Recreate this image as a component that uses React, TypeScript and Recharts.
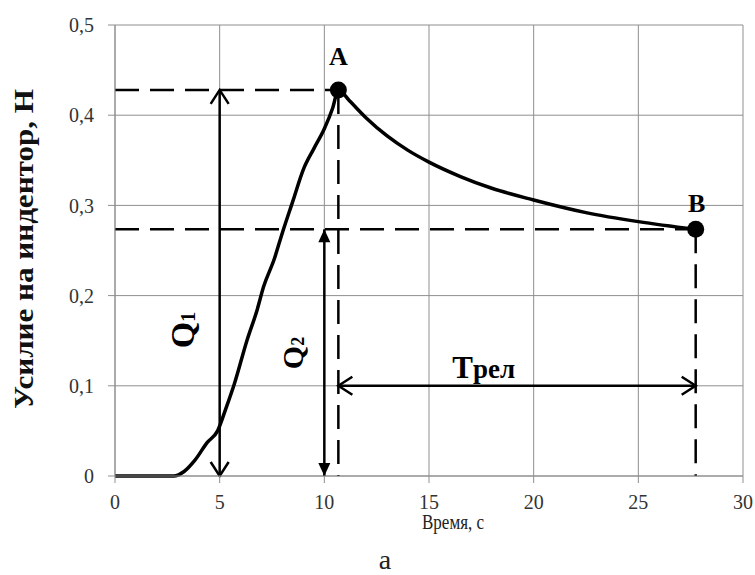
import React from "react";
import {
  ComposedChart,
  Line,
  XAxis,
  YAxis,
  CartesianGrid,
  ReferenceLine,
  ReferenceDot,
  Label,
} from "recharts";

// load curve: time (s) vs force on the indenter (N)
const time = [
  0, 2.8, 3.3, 3.8, 4.4, 4.9, 5.3, 5.7, 6.3, 6.8, 7.1, 7.6, 8.0, 8.5, 9.0,
  9.5, 10.0, 10.4, 10.67, 11.2, 12.0, 13.0, 14.0, 15, 16.5, 18, 20, 22.5, 25,
  27.74,
];
const force = [
  0, 0, 0.005, 0.017, 0.037, 0.05, 0.075, 0.102, 0.15, 0.185, 0.21, 0.24, 0.27,
  0.305, 0.34, 0.363, 0.385, 0.408, 0.428, 0.416, 0.397, 0.377, 0.361, 0.348,
  0.332, 0.319, 0.306, 0.292, 0.282, 0.2735,
];

const pointA = { t: 10.67, f: 0.428 };
const pointB = { t: 27.74, f: 0.2735 };
const q1Time = 5;
const q2Time = 10;
const trelLevel = 0.1;

const xTicks = [0, 5, 10, 15, 20, 25, 30];
const yTicks = [0, 0.1, 0.2, 0.3, 0.4, 0.5];

const data = time.map((t, i) => ({ t, f: force[i] }));

const FONT = "'Liberation Serif', 'Times New Roman', serif";
const GRID = "#8f8f8f";
const serif: React.CSSProperties = { fontFamily: FONT };

const fmtY = (v: number) => (v === 0 ? "0" : v.toFixed(1).replace(".", ","));

type Head = "open" | "filled";

const head = (x: number, y: number, ang: number, kind: Head) => {
  const len = kind === "open" ? 14 : 13;
  const half = kind === "open" ? 9 : 6;
  const bx = x - len * Math.cos(ang);
  const by = y - len * Math.sin(ang);
  const px = -Math.sin(ang) * half;
  const py = Math.cos(ang) * half;
  if (kind === "open") {
    return (
      <polyline
        points={`${bx + px},${by + py} ${x},${y} ${bx - px},${by - py}`}
        fill="none"
        stroke="#000"
        strokeWidth={2.5}
      />
    );
  }
  return (
    <polygon
      points={`${bx + px},${by + py} ${x},${y} ${bx - px},${by - py}`}
      fill="#000"
    />
  );
};

const arrow =
  (kind: Head, label?: (x: number, y: number) => React.ReactNode) =>
  (p: any) => {
    const { x1, y1, x2, y2 } = p;
    const ang = Math.atan2(y2 - y1, x2 - x1);
    return (
      <g>
        <line x1={x1} y1={y1} x2={x2} y2={y2} stroke="#000" strokeWidth={2.5} />
        {head(x2, y2, ang, kind)}
        {head(x1, y1, ang + Math.PI, kind)}
        {label && label(x1, y1)}
      </g>
    );
  };

const qLabel = (cx: number, cy: number, sub: string, size: number) => (
  <text
    x={cx}
    y={cy}
    transform={`rotate(-90 ${cx} ${cy})`}
    textAnchor="middle"
    style={serif}
    fontWeight="bold"
    fontSize={size}
    fill="#000"
  >
    Q
    <tspan fontSize={size * 0.6} dy={size * 0.03}>
      {sub}
    </tspan>
  </text>
);

const dotWithLetter = (letter: string, dx: number, dy: number) => (p: any) => (
  <g>
    <circle cx={p.cx} cy={p.cy} r={8.5} fill="#000" />
    <text
      x={p.cx + dx}
      y={p.cy + dy}
      textAnchor="middle"
      style={serif}
      fontWeight="bold"
      fontSize={26}
      fill="#000"
    >
      {letter}
    </text>
  </g>
);

const dash = "24 11";

export default function App() {
  return (
    <div style={{ position: "absolute", left: 0, top: 0, background: "#fff", ...serif }}>
      <ComposedChart
        width={755}
        height={575}
        data={data}
        margin={{ top: 25, right: 12, bottom: 0, left: 0 }}
        style={serif}
      >
        <CartesianGrid stroke={GRID} strokeWidth={1} />
        <XAxis
          dataKey="t"
          type="number"
          domain={[0, 30]}
          ticks={xTicks}
          height={99}
          tickSize={7}
          tickMargin={12}
          stroke={GRID}
          tick={{ fill: "#333", fontSize: 20, style: serif }}
        >
          <Label
            content={(props: any) => {
              const vb = props.viewBox;
              return (
                <g style={serif} fill="#222">
                  <text
                    x={vb.x + vb.width / 2 + 24}
                    y={vb.y + 53}
                    textAnchor="middle"
                    fontSize={20}
                    textLength={62}
                    lengthAdjust="spacingAndGlyphs"
                    style={serif}
                  >
                    Время, с
                  </text>
                  <text
                    x={vb.x + 270}
                    y={vb.y + 93}
                    textAnchor="middle"
                    fontSize={28}
                    style={serif}
                  >
                    а
                  </text>
                </g>
              );
            }}
          />
        </XAxis>
        <YAxis
          type="number"
          domain={[0, 0.5]}
          ticks={yTicks}
          width={115}
          tickSize={7}
          tickMargin={14}
          stroke={GRID}
          tickFormatter={fmtY}
          tick={{ fill: "#333", fontSize: 20, style: serif }}
        >
          <Label
            content={(props: any) => {
              const vb = props.viewBox;
              const cx = 33;
              const cy = vb.y + vb.height / 2 - 1.5;
              return (
                <text
                  x={cx}
                  y={cy}
                  transform={`rotate(-90 ${cx} ${cy})`}
                  textAnchor="middle"
                  style={serif}
                  fontWeight="bold"
                  fontSize={27}
                  textLength={320}
                  lengthAdjust="spacingAndGlyphs"
                  fill="#111"
                >
                  Усилие на индентор, Н
                </text>
              );
            }}
          />
        </YAxis>

        {/* dashed guides */}
        <ReferenceLine
          segment={[{ x: 0, y: pointA.f }, { x: pointA.t, y: pointA.f }]}
          stroke="#000"
          strokeWidth={2.5}
          strokeDasharray={dash}
        />
        <ReferenceLine
          segment={[{ x: 0, y: pointB.f }, { x: pointB.t, y: pointB.f }]}
          stroke="#000"
          strokeWidth={2.5}
          strokeDasharray={dash}
        />
        <ReferenceLine
          segment={[{ x: pointA.t, y: pointA.f }, { x: pointA.t, y: 0 }]}
          stroke="#000"
          strokeWidth={2.5}
          strokeDasharray={dash}
        />
        <ReferenceLine
          segment={[{ x: pointB.t, y: pointB.f }, { x: pointB.t, y: 0 }]}
          stroke="#000"
          strokeWidth={2.5}
          strokeDasharray={dash}
        />

        {/* dimension arrows */}
        <ReferenceLine
          segment={[{ x: q1Time, y: 0 }, { x: q1Time, y: pointA.f }]}
          shape={arrow("open", (x, y) => qLabel(x - 26, y - 146, "1", 34))}
        />
        <ReferenceLine
          segment={[{ x: q2Time, y: 0 }, { x: q2Time, y: pointB.f }]}
          shape={arrow("filled", (x, y) => qLabel(x - 21, y - 123, "2", 30))}
        />
        <ReferenceLine
          segment={[{ x: pointA.t, y: trelLevel }, { x: pointB.t, y: trelLevel }]}
          shape={arrow("open", (x, y) => (
            <text x={x + 114} y={y - 8} style={serif} fontWeight="bold" fill="#000">
              <tspan fontSize={31}>Т</tspan>
              <tspan fontSize={27}>рел</tspan>
            </text>
          ))}
        />

        <Line
          type="monotone"
          dataKey="f"
          stroke="#000"
          strokeWidth={3.5}
          dot={false}
          activeDot={false}
          isAnimationActive={false}
        />

        <ReferenceDot x={pointA.t} y={pointA.f} shape={dotWithLetter("A", 0, -25)} />
        <ReferenceDot x={pointB.t} y={pointB.f} shape={dotWithLetter("B", 1, -17)} />
      </ComposedChart>
    </div>
  );
}
